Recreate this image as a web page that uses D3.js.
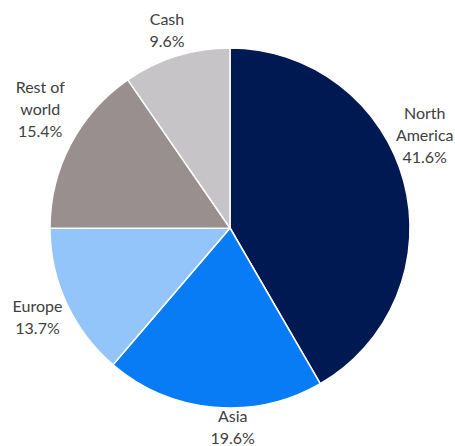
<!DOCTYPE html>
<html>
<head>
<meta charset="utf-8">
<script src="https://cdn.jsdelivr.net/npm/d3@7"></script>
<style>
  body { margin: 0; background: #fff; }
  text { font-family: Lato, "Open Sans", sans-serif; font-size: 16px; fill: #404040; }
</style>
</head>
<body>
<div id="chart"></div>
<script>
const w = 455, h = 446;

// data, clockwise from 12 o'clock
const regions = ["North America", "Asia", "Europe", "Rest of world", "Cash"];
const labelLines = [["North", "America"], ["Asia"], ["Europe"], ["Rest of", "world"], ["Cash"]];
const shares = [41.6, 19.6, 13.7, 15.4, 9.6];
const colours = ["#011952", "#087cf4", "#93c5fa", "#998f8f", "#c6c4c6"];

// label nudges from the outer centroid (Excel pushes them around a bit)
const nudge = {
  "North America": [-10, -38],
  "Asia": [22, -12],
  "Europe": [0, 0],
  "Rest of world": [-2, -20],
  "Cash": [0, 5]
};

const cx = 230, cy = 228, r = 180, lr = 212, lh = 22, capH = 11.5;

const svg = d3.select("#chart").append("svg").attr("width", w).attr("height", h);
const g = svg.append("g").attr("transform", `translate(${cx},${cy})`);

const data = regions.map((d, i) => ({ name: d, value: shares[i], lines: labelLines[i], col: colours[i] }));
const pie = d3.pie().value(d => d.value).sort(null);
const arc = d3.arc().innerRadius(0).outerRadius(r);
const arcs = pie(data);

g.selectAll("path")
  .data(arcs)
  .join("path")
    .attr("d", arc)
    .attr("fill", d => d.data.col)
    .attr("stroke", "#fff")
    .attr("stroke-width", 1.5)
    .attr("stroke-linejoin", "round");

const lab = g.selectAll("text")
  .data(arcs)
  .join("text")
    .attr("text-anchor", "middle")
    .each(function(d) {
      const mid = (d.startAngle + d.endAngle) / 2;
      const [px, py] = d3.pointRadial(mid, lr);
      const [nx, ny] = nudge[d.data.name];
      const lines = d.data.lines.concat([d.data.value.toFixed(1) + "%"]);
      const x = px + nx;
      const b0 = py + ny - ((lines.length - 1) * lh - capH) / 2;
      const t = d3.select(this);
      lines.forEach((l, i) => {
        t.append("tspan").attr("x", x).attr("y", b0 + i * lh).text(l);
      });
    });
</script>
</body>
</html>
